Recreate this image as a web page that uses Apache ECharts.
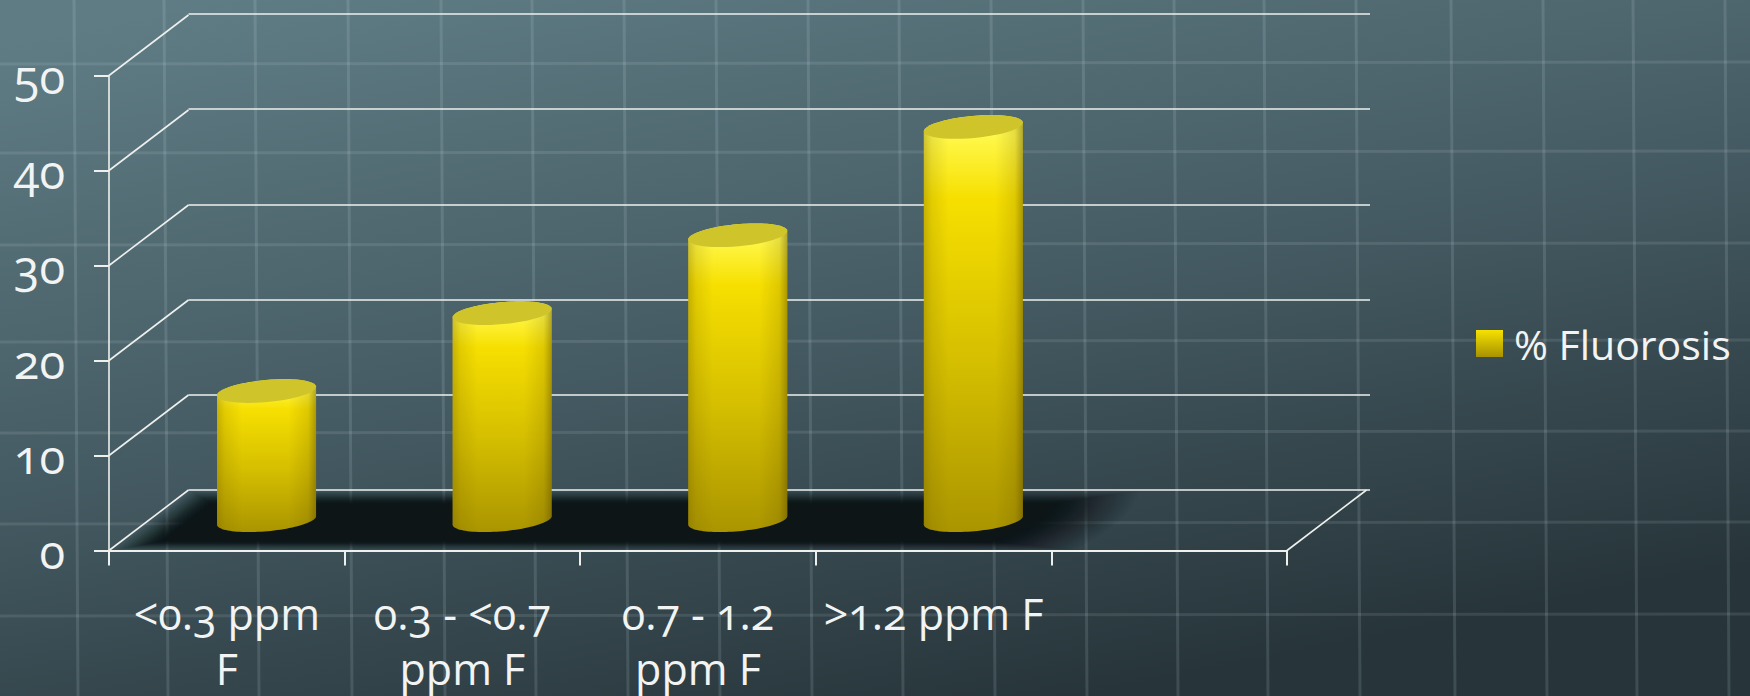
<!DOCTYPE html>
<html><head><meta charset="utf-8">
<style>
html,body{margin:0;padding:0;background:#3c5058;}
#c{width:1750px;height:696px;}
text{font-variant-numeric:oldstyle-nums !important;font-feature-settings:"onum" 1 !important;}
</style>
<script src="https://cdn.jsdelivr.net/npm/echarts@6/dist/echarts.min.js"></script>
</head><body><div id="c"></div>
<script>
const categories = ['<0.3 ppm\nF', '0.3 - <0.7\nppm F', '0.7 - 1.2\nppm F', '>1.2 ppm F', ''];
const fluorosis = [13.6, 21.8, 30.0, 41.4];
const seriesName = '% Fluorosis';
const yTicks = [0, 10, 20, 30, 40, 50];
const bgVerticals = [75, 165, 256, 349, 442, 533, 625, 717, 809, 900, 992, 1084, 1175, 1265, 1357, 1452, 1544, 1634, 1726];
const bgHorizontals = [63, 152, 244, 341, 432, 523, 615];

const LG = echarts.graphic.LinearGradient;
const AXIS = '#eef0ee';
const FONT = '"Open Sans","Lato",sans-serif';
const DX = 79.5, DY = -60.5;         // depth of the 3D box
const MID = 0.5;                     // cylinders stand mid-depth
const TILT = -5.2 * Math.PI / 180;
const RADIUS_RATIO = 0.211, MINOR = 11;

const bodyFill = new LG(0, 0, 0, 1, [
  {offset: 0, color: '#f8f244'}, {offset: 0.05, color: '#fff84a'},
  {offset: 0.2, color: '#f6df00'}, {offset: 0.6, color: '#d4be00'},
  {offset: 1, color: '#aa9500'}]);
const sideShade = new LG(0, 0, 1, 0, [
  {offset: 0, color: 'rgba(110,90,0,0.34)'}, {offset: 0.08, color: 'rgba(110,90,0,0.14)'},
  {offset: 0.25, color: 'rgba(110,90,0,0)'}, {offset: 0.72, color: 'rgba(80,60,0,0)'},
  {offset: 0.92, color: 'rgba(80,60,0,0.14)'}, {offset: 1, color: 'rgba(70,55,0,0.42)'}]);
const legendFill = new LG(0, 0, 0, 1, [{offset: 0, color: '#f6e200'}, {offset: 1, color: '#a89200'}]);

function ellipsePoint(cx, cy, a, t) {
  const c = Math.cos(t), s = Math.sin(t);
  return [cx + a * c * Math.cos(TILT) - MINOR * s * Math.sin(TILT),
          cy + a * c * Math.sin(TILT) + MINOR * s * Math.cos(TILT)];
}
function arc(cx, cy, a, from, to) {
  const pts = [];
  for (let i = 0; i <= 48; i++) pts.push(ellipsePoint(cx, cy, a, from + (to - from) * i / 48));
  return pts;
}
function renderCylinder(params, api) {
  const idx = api.value(0);
  const base = api.coord([idx, 0]);
  const top = api.coord([idx, api.value(1)]);
  const a = api.size([1, 0])[0] * RADIUS_RATIO;
  const cx = base[0] + DX * MID, by = base[1] + DY * MID, ty = top[1] + DY * MID;
  const body = arc(cx, by, a, 0, Math.PI).concat(arc(cx, ty, a, Math.PI, 2 * Math.PI));
  const lid = arc(cx, ty, a, 0, 2 * Math.PI);
  return {type: 'group', children: [
    {type: 'polygon', shape: {points: body}, style: {fill: bodyFill}},
    {type: 'polygon', shape: {points: body}, style: {fill: sideShade}},
    {type: 'polygon', shape: {points: lid}, style: {fill: '#cfc42a'}}
  ]};
}
function renderDiagonal(params, api) {
  const r = params.coordSys, v = api.value(1);
  const y = api.coord([0, v])[1];
  return {type: 'line', shape: {x1: r.x, y1: y, x2: r.x + DX, y2: y + DY},
          style: {stroke: AXIS, lineWidth: 1.6}};
}
function renderFloor(params, api) {
  const r = params.coordSys, y0 = r.y + r.height;
  const children = [];
  const LAYERS = 30, slope = DX / -DY;
  for (let k = 0; k < LAYERS; k++) {
    const f = k / (LAYERS - 1);
    const topY = y0 + DY + 1 + f * 13, botY = y0 - 0.5 - f * 9;
    const leftAt = y => r.x + (y0 - y) * slope + 4 + f * 38;
    const rightTop = r.x + r.width * (0.875 - f * 0.075);
    const rightBot = r.x + r.width * (0.82 - f * 0.07);
    const pts = [[leftAt(botY), botY], [leftAt(topY), topY]];
    for (let i = 0; i <= 12; i++) {
      const s = i / 12;
      pts.push([rightTop + (rightBot - rightTop) * s + 12 * Math.sin(Math.PI * s), topY + (botY - topY) * s]);
    }
    children.push({type: 'polygon', silent: true, shape: {points: pts},
      style: {fill: '#0d1517', fillOpacity: 1 / (LAYERS - k)}});
  }
  children.push({type: 'line', shape: {x1: r.x + r.width, y1: y0, x2: r.x + r.width + DX, y2: y0 + DY},
                 style: {stroke: AXIS, lineWidth: 1.6}});
  return {type: 'group', children};
}

const bgChildren = [
  {type: 'rect', shape: {x: 0, y: 0, width: 1750, height: 696}, z: -10,
   style: {fill: new LG(0.12, 0, 0.62, 1, [
     {offset: 0, color: '#5f7c84'}, {offset: 0.5, color: '#465c64'}, {offset: 1, color: '#27353a'}])}}
];
bgVerticals.forEach(x => bgChildren.push({type: 'line', z: -9, silent: true,
  shape: {x1: x - 1, y1: 0, x2: x + 3, y2: 696},
  style: {stroke: 'rgba(225,240,245,0.13)', lineWidth: 3}}));
bgHorizontals.forEach(y => bgChildren.push({type: 'line', z: -9, silent: true,
  shape: {x1: 0, y1: y + 1, x2: 1750, y2: y - 1},
  style: {stroke: 'rgba(225,240,245,0.11)', lineWidth: 3}}));

const chart = echarts.init(document.getElementById('c'), null, {renderer: 'svg'});
chart.setOption({
  animation: false,
  graphic: bgChildren,
  legend: {
    left: 1476, top: 323, padding: 0, orient: 'vertical', itemWidth: 27, itemHeight: 27, itemGap: 0,
    icon: 'rect', data: [seriesName],
    textStyle: {color: '#f2f4f4', fontFamily: FONT, fontSize: 41, padding: [4, 0, 0, 6]}
  },
  grid: [
    {left: 109, top: 75.5, width: 1178, height: 475, outerBoundsMode: 'none'},
    {left: 188.5, top: 14, width: 1181.5, height: 476, outerBoundsMode: 'none'}
  ],
  xAxis: [
    {type: 'category', gridIndex: 0, data: categories, z: 5,
     axisLine: {lineStyle: {color: AXIS, width: 2}},
     axisTick: {show: true, length: 15, inside: false, alignWithLabel: false, lineStyle: {color: AXIS, width: 2}},
     axisLabel: {interval: 0, color: '#f2f4f4', fontFamily: FONT, fontSize: 43, lineHeight: 55, margin: 35}},
    {type: 'category', gridIndex: 1, data: categories, axisLine: {show: false}, axisTick: {show: false}, axisLabel: {show: false}}
  ],
  yAxis: [
    {type: 'value', gridIndex: 0, min: 0, max: 50, interval: 10, z: 5,
     splitLine: {show: false},
     axisLine: {show: true, lineStyle: {color: AXIS, width: 1.6}},
     axisTick: {show: true, length: 15, lineStyle: {color: AXIS, width: 2}},
     axisLabel: {color: '#f2f4f4', fontFamily: FONT, fontSize: 47, margin: 44, padding: [13, 0, 0, 0]}},
    {type: 'value', gridIndex: 1, min: 0, max: 50, interval: 10,
     splitLine: {show: true, lineStyle: {color: AXIS, width: 1.6}},
     axisLine: {show: false}, axisTick: {show: false}, axisLabel: {show: false}}
  ],
  series: [
    {type: 'custom', name: 'floor', xAxisIndex: 0, yAxisIndex: 0, z: 1, silent: true, clip: false,
     data: [[0, 0]], renderItem: renderFloor},
    {type: 'custom', name: 'depth', xAxisIndex: 0, yAxisIndex: 0, z: 2, silent: true, clip: false,
     data: yTicks.map(v => [0, v]), renderItem: renderDiagonal},
    {type: 'custom', name: seriesName, xAxisIndex: 0, yAxisIndex: 0, z: 3, clip: false,
     itemStyle: {color: legendFill},
     data: fluorosis.map((v, i) => [i, v]), encode: {x: 0, y: 1}, renderItem: renderCylinder}
  ]
});
</script></body></html>
